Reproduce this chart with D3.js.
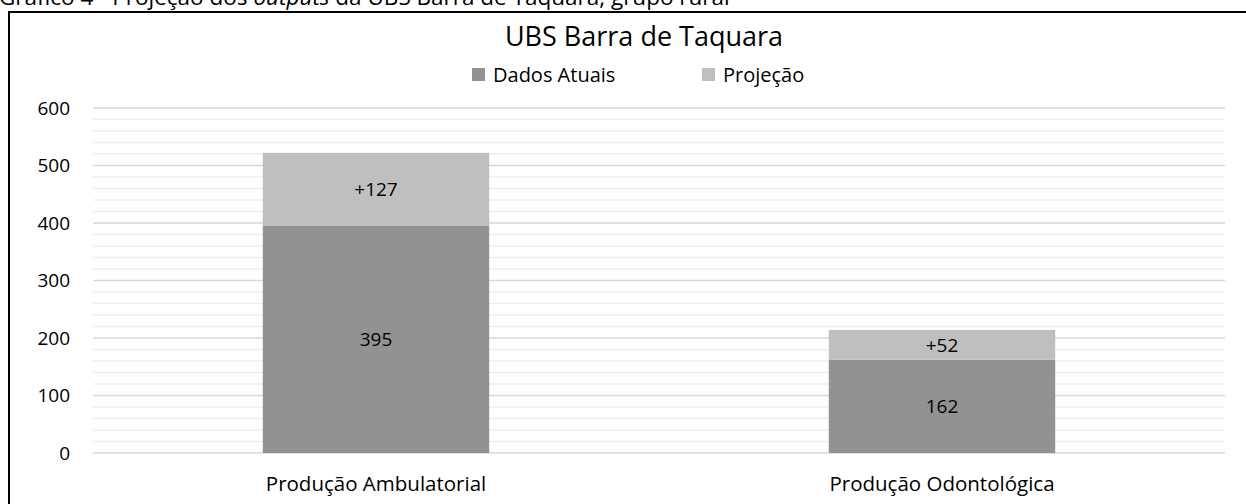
<!DOCTYPE html>
<html><head><meta charset="utf-8">
<script src="https://cdn.jsdelivr.net/npm/d3@7"></script>
<style>
html,body{margin:0;padding:0;background:#fff;overflow:hidden}
svg{display:block;font-family:"Open Sans","Noto Sans",sans-serif}
</style></head>
<body>
<script>
const categories = ["Produção Ambulatorial", "Produção Odontológica"];
const atuais = [395, 162];
const projecao = [127, 52];
const seriesNames = ["Dados Atuais", "Projeção"];
const yTicks = [0, 100, 200, 300, 400, 500, 600];
const minorTicks = d3.range(0, 601, 20);
const colors = ["#929292", "#bfbfbf"];

const W = 1246, H = 504;
const svg = d3.select("body").append("svg").attr("width", W).attr("height", H);

// caption (cut off at top)
const cap = svg.append("text").attr("x", -1).attr("y", 5).attr("font-size", 22.5).attr("fill", "#000");
cap.append("tspan").text("Gráfico 4 - Projeção dos ");
cap.append("tspan").attr("font-style", "italic").text("outputs");
cap.append("tspan").text(" da UBS Barra de Taquara, grupo rural");

// frame
svg.append("rect").attr("x", 9).attr("y", 12).attr("width", 1300).attr("height", 600)
  .attr("fill", "none").attr("stroke", "#000").attr("stroke-width", 2);

const x = d3.scaleBand().domain(categories).range([93, 1225]).paddingInner(0.6).paddingOuter(0.3);
const y = d3.scaleLinear().domain([0, 600]).range([453, 108]);

// minor grid
svg.append("g").selectAll("line").data(minorTicks.filter(v => v % 100 !== 0)).join("line")
  .attr("x1", 93).attr("x2", 1225).attr("y1", d => y(d)).attr("y2", d => y(d))
  .attr("stroke", "#efefef").attr("stroke-width", 1.3);
// major grid
svg.append("g").selectAll("line").data(yTicks).join("line")
  .attr("x1", 93).attr("x2", 1225).attr("y1", d => y(d)).attr("y2", d => y(d))
  .attr("stroke", "#d9d9d9").attr("stroke-width", 1.5);

// y axis labels
const yAxis = d3.axisLeft(y).tickValues(yTicks).tickSize(0).tickPadding(0);
const ya = svg.append("g").attr("transform", "translate(70,0)").call(yAxis);
ya.select(".domain").remove();
ya.selectAll("text").attr("font-size", 19).attr("font-family", "Open Sans").attr("fill", "#000");

// bars
const stacked = categories.map((c, i) => ({c, a: atuais[i], p: projecao[i]}));
const g = svg.append("g");
g.selectAll(".a").data(stacked).join("rect")
  .attr("x", d => x(d.c)).attr("width", x.bandwidth())
  .attr("y", d => y(d.a)).attr("height", d => y(0) - y(d.a)).attr("fill", colors[0]);
g.selectAll(".p").data(stacked).join("rect")
  .attr("x", d => x(d.c)).attr("width", x.bandwidth())
  .attr("y", d => y(d.a + d.p)).attr("height", d => y(d.a) - y(d.a + d.p)).attr("fill", colors[1]);

// data labels
g.selectAll(".la").data(stacked).join("text")
  .attr("x", d => x(d.c) + x.bandwidth() / 2).attr("y", d => y(d.a / 2))
  .attr("dy", "0.35em").attr("text-anchor", "middle").attr("font-size", 19).text(d => d.a);
g.selectAll(".lp").data(stacked).join("text")
  .attr("x", d => x(d.c) + x.bandwidth() / 2).attr("y", d => y(d.a + d.p / 2))
  .attr("dy", "0.35em").attr("text-anchor", "middle").attr("font-size", 19).text(d => "+" + d.p);

// x axis labels
const xAxis = d3.axisBottom(x).tickSize(0).tickPadding(0);
const xa = svg.append("g").attr("transform", "translate(0,476)").call(xAxis);
xa.select(".domain").remove();
xa.selectAll("text").attr("font-size", 20.5).attr("font-family", "Open Sans").attr("fill", "#000");

// title
svg.append("text").attr("x", 644).attr("y", 46).attr("text-anchor", "middle")
  .attr("font-size", 27).text("UBS Barra de Taquara");

// legend
const legX = [472, 702];
const leg = svg.append("g").selectAll("g").data(seriesNames).join("g")
  .attr("transform", (d, i) => `translate(${legX[i]},68)`);
leg.append("rect").attr("width", 13).attr("height", 13).attr("fill", (d, i) => colors[i]);
leg.append("text").attr("x", 21).attr("y", 7).attr("dy", "0.35em").attr("font-size", 20).text(d => d);
</script>
</body></html>
